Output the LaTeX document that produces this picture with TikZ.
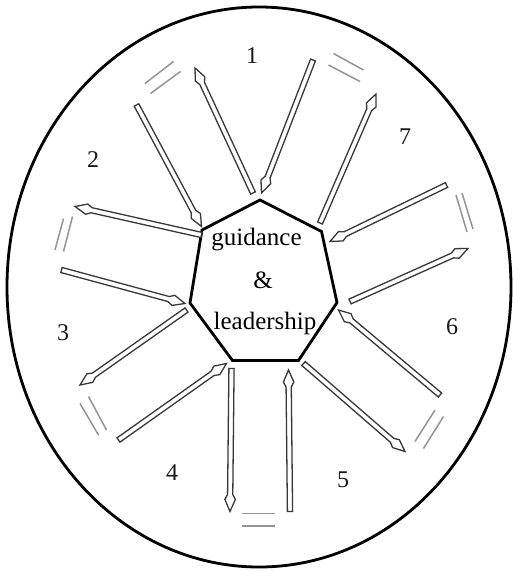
\documentclass[tikz,border=0pt]{standalone}
\usepackage{fontspec}
\setmainfont{Liberation Serif}
\usetikzlibrary{calc}
\newcommand{\hollowarrow}[2]{%
  \draw[harrowline]
    ($(#1)!2.6pt!90:(#2)$) --
    ($(#2)!17pt!(#1)!2.6pt!90:(#2)$) --
    ($(#2)!12pt!(#1)!5.2pt!90:(#2)$) --
    (#2) --
    ($(#2)!12pt!(#1)!5.2pt!-90:(#2)$) --
    ($(#2)!17pt!(#1)!2.6pt!-90:(#2)$) --
    ($(#1)!2.6pt!-90:(#2)$) -- cycle;}
\begin{document}
\begin{tikzpicture}[x=1pt,y=-1pt,
  harrowline/.style={draw=black!78, line width=1.3pt, fill=white, line join=miter},
  slashmark/.style={draw=black!42, line width=1.5pt},
  hept/.style={draw=black, line width=2.8pt, line join=miter},
  rim/.style={draw=black, line width=2.8pt},
  lbl/.style={font=\fontsize{24}{24}\selectfont, text=black!90, inner sep=0pt},
  word/.style={font=\fontsize{25}{25}\selectfont, text=black, inner sep=0pt, anchor=base}
]
\useasboundingbox (0,0) rectangle (513,571);
\fill[white] (0,0) rectangle (513,571);
\draw[rim] (259,287) ellipse [x radius=252pt, y radius=280pt];

% heptagon
\coordinate (h1) at (260,200);
\coordinate (h2) at (321.5,231.5);
\coordinate (h3) at (337,302.5);
\coordinate (h4) at (298.5,360.5);
\coordinate (h5) at (232.5,360.5);
\coordinate (h6) at (190,303);
\coordinate (h7) at (202,230);
\draw[hept] (h1) -- (h2) -- (h3) -- (h4) -- (h5) -- (h6) -- (h7) -- cycle;

\node[word] (guid) at (256.5,245) {guidance};
\node[word] (amp) at (263,288) {\&};
\node[word] (lead) at (265,329) {leadership};

% sector numbers
\node[lbl] (n1) at (252,56) {1};
\node[lbl] (n7) at (405,137) {7};
\node[lbl] (n2) at (93,160) {2};
\node[lbl] (n3) at (63,333) {3};
\node[lbl] (n6) at (452,327) {6};
\node[lbl] (n4) at (172,473) {4};
\node[lbl] (n5) at (343,480) {5};

% arrow end points (tail, tip)
\coordinate (a1t) at (253,193);   \coordinate (a1h) at (195,68);
\coordinate (a2t) at (313,60);    \coordinate (a2h) at (261.5,193);
\coordinate (a3t) at (320,223);   \coordinate (a3h) at (376,94);
\coordinate (a4t) at (446.5,185); \coordinate (a4h) at (330,241.5);
\coordinate (a5t) at (350,301.5); \coordinate (a5h) at (468,248.5);
\coordinate (a6t) at (440,395);   \coordinate (a6h) at (338.5,310);
\coordinate (a7t) at (303.5,363.5); \coordinate (a7h) at (405,451.5);
\coordinate (a8t) at (290,511.5); \coordinate (a8h) at (288.5,370);
\coordinate (a9t) at (231.5,368.5); \coordinate (a9h) at (230,511.5);
\coordinate (a10t) at (118.5,440); \coordinate (a10h) at (226.5,363.5);
\coordinate (a11t) at (186.5,310); \coordinate (a11h) at (80,385);
\coordinate (a12t) at (61.5,270);  \coordinate (a12h) at (185,303.5);
\coordinate (a13t) at (201.5,235); \coordinate (a13h) at (75,206.5);
\coordinate (a14t) at (136.5,105); \coordinate (a14h) at (201.5,226.5);

\hollowarrow{a1t}{a1h}
\hollowarrow{a2t}{a2h}
\hollowarrow{a3t}{a3h}
\hollowarrow{a4t}{a4h}
\hollowarrow{a5t}{a5h}
\hollowarrow{a6t}{a6h}
\hollowarrow{a7t}{a7h}
\hollowarrow{a8t}{a8h}
\hollowarrow{a9t}{a9h}
\hollowarrow{a10t}{a10h}
\hollowarrow{a11t}{a11h}
\hollowarrow{a12t}{a12h}
\hollowarrow{a13t}{a13h}
\hollowarrow{a14t}{a14h}

% double slash marks
\draw[slashmark] (145,83.5) -- (173.5,61.5);
\draw[slashmark] (150.5,93.5) -- (180.5,71.5);
\draw[slashmark] (333.5,53.5) -- (363.5,70);
\draw[slashmark] (328.5,65) -- (360,81.5);
\draw[slashmark] (55,250) -- (63.5,218.5);
\draw[slashmark] (63.5,251.5) -- (72.5,216.5);
\draw[slashmark] (456,195) -- (467,232);
\draw[slashmark] (462,193) -- (473,229);
\draw[slashmark] (80,403.5) -- (98.5,435);
\draw[slashmark] (88.5,396.5) -- (106.5,430);
\draw[slashmark] (241.5,513.5) -- (275,513.5);
\draw[slashmark] (241.5,526) -- (275,526);
\draw[slashmark] (415,441.5) -- (435,410);
\draw[slashmark] (423.5,448.5) -- (443.5,416.5);
\end{tikzpicture}
\end{document}
